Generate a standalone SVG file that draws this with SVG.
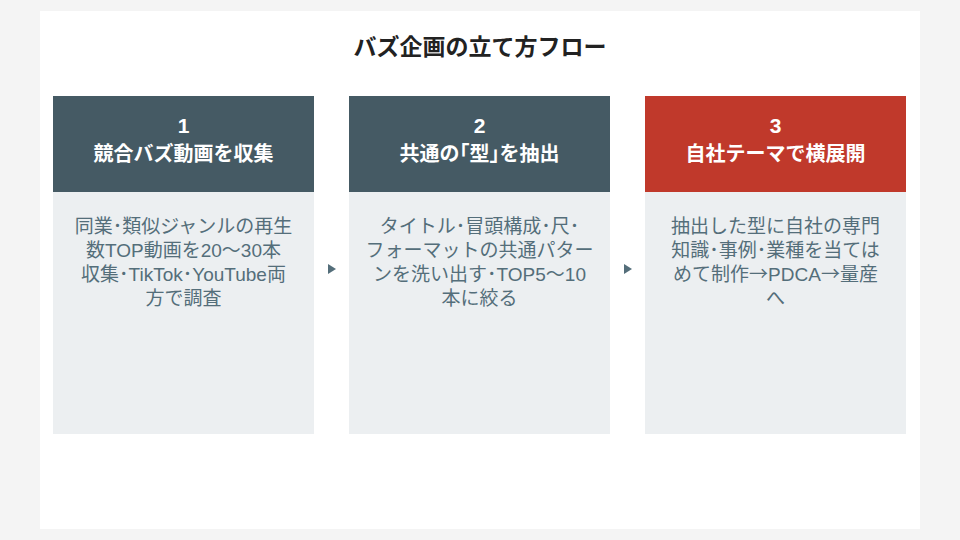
<svg xmlns="http://www.w3.org/2000/svg" width="960" height="540" viewBox="0 0 960 540">
<style>
.ttl{font-family:"Liberation Sans","Noto Sans CJK JP",sans-serif;font-size:23px;font-weight:bold;fill:#222;text-anchor:middle}
.hdr{fill:#455a64}
.hdr.red{fill:#c0392b}
.body{fill:#eceff1}
.num{font-family:"Liberation Sans","Noto Sans CJK JP",sans-serif;font-size:21px;font-weight:bold;fill:#fff;text-anchor:middle}
.head{font-family:"Liberation Sans","Noto Sans CJK JP",sans-serif;font-size:20px;font-weight:bold;fill:#fff;text-anchor:middle}
.txt{font-family:"Liberation Sans","Noto Sans CJK JP",sans-serif;font-size:19px;fill:#546e7a;text-anchor:middle}
.cjk{font-family:"Noto Sans CJK JP",sans-serif}
.arr{fill:#546e7a}
</style>
<rect width="960" height="540" fill="#f4f4f4"/>
<rect x="40" y="11" width="880" height="518" fill="#fff"/>
<text class="ttl" x="480" y="55">バズ企画の立て方フロー</text>
<g id="step1">
<rect class="hdr" x="53" y="96" width="261" height="96"/>
<rect class="body" x="53" y="192" width="261" height="242"/>
<text class="num" x="183.5" y="133">1</text>
<text class="head" x="183.5" y="161">競合バズ動画を収集</text>
<text class="txt"><tspan x="183.5" y="233">同業･類似ジャンルの再生</tspan><tspan x="183.5" y="257">数TOP動画を20〜30本</tspan><tspan x="183.5" y="281">収集･TikTok･YouTube両</tspan><tspan x="183.5" y="305">方で調査</tspan></text>
</g>
<g id="step2">
<rect class="hdr" x="349" y="96" width="261" height="96"/>
<rect class="body" x="349" y="192" width="261" height="242"/>
<text class="num" x="479.5" y="133">2</text>
<text class="head" x="479.5" y="161">共通の｢型｣を抽出</text>
<text class="txt"><tspan x="479.5" y="233">タイトル･冒頭構成･尺･</tspan><tspan x="479.5" y="257">フォーマットの共通パター</tspan><tspan x="479.5" y="281">ンを洗い出す･TOP5〜10</tspan><tspan x="479.5" y="305">本に絞る</tspan></text>
</g>
<g id="step3">
<rect class="hdr red" x="645" y="96" width="261" height="96"/>
<rect class="body" x="645" y="192" width="261" height="242"/>
<text class="num" x="775.5" y="133">3</text>
<text class="head" x="775.5" y="161">自社テーマで横展開</text>
<text class="txt"><tspan x="775.5" y="233">抽出した型に自社の専門</tspan><tspan x="775.5" y="257">知識･事例･業種を当ては</tspan><tspan x="775.5" y="281">めて制作<tspan class="cjk">→</tspan>PDCA<tspan class="cjk">→</tspan>量産</tspan><tspan x="775.5" y="305">へ</tspan></text>
</g>
<g id="connectors">
<path class="arr" d="M328,264 L336,269 L328,274 Z"/>
<path class="arr" d="M624,264 L632,269 L624,274 Z"/>
</g>
</svg>
